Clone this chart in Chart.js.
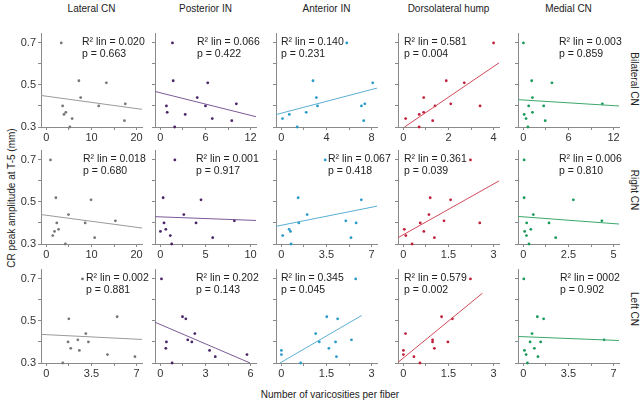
<!DOCTYPE html>
<html>
<head>
<meta charset="utf-8">
<script src="https://cdn.jsdelivr.net/npm/chart.js@4"></script>
<style>
  body { margin: 0; background: #fff; }
  #wrap { position: relative; width: 640px; height: 401px; overflow: hidden; font-family: "Liberation Sans", Arial, sans-serif; color: #222; }
  canvas { position: absolute; }
  .lbl { position: absolute; font-size: 10px; white-space: nowrap; transform: translate(-50%, -50%); }
  .rot { transform: translate(-50%, -50%) rotate(90deg); }
  .rotl { transform: translate(-50%, -50%) rotate(-90deg); }
</style>
</head>
<body>
<div id="wrap"></div>
<script>
const regions = ["Lateral CN", "Posterior IN", "Anterior IN", "Dorsolateral hump", "Medial CN"];
const sides = ["Bilateral CN", "Right CN", "Left CN"];
const yTickLabels = ["0.3", "0.5", "0.7"];

const ticksBilateral = [["0", "10", "20"], ["0", "6", "12"], ["0", "4", "8"], ["0", "2", "4"], ["0", "6", "12"]];
const ticksRight = [["0", "10", "20"], ["0", "5", "10"], ["0", "3.5", "7"], ["0", "1.5", "3"], ["0", "2.5", "5"]];
const ticksLeft = [["0", "3.5", "7"], ["0", "3", "6"], ["0", "1.5", "3"], ["0", "1.5", "3"], ["0", "3.5", "7"]];

const r2Bilateral = ["0.020", "0.066", "0.140", "0.581", "0.003"];
const pBilateral = ["0.663", "0.422", "0.231", "0.004", "0.859"];
const r2Right = ["0.018", "0.001", "0.067", "0.361", "0.006"];
const pRight = ["0.680", "0.917", "0.418", "0.039", "0.810"];
const r2Left = ["0.002", "0.202", "0.345", "0.579", "0002"];
const pLeft = ["0.881", "0.143", "0.045", "0.002", "0.902"];

// bilateral CN
const latBilat = [[3.3, 0.70], [7.2, 0.52], [13.3, 0.51], [7.6, 0.44], [3.6, 0.40], [11.6, 0.40], [17.5, 0.41], [4.3, 0.37], [3.9, 0.36], [5.7, 0.34], [17.3, 0.33], [5.2, 0.30]];
const postBilat = [[1.6, 0.70], [1.7, 0.52], [0.8, 0.40], [0.9, 0.37], [3.3, 0.36], [1.9, 0.30], [4.9, 0.44], [6.0, 0.40], [6.3, 0.51], [6.9, 0.34], [10.1, 0.41], [9.5, 0.33]];
const antBilat = [[5.8, 0.70], [2.8, 0.52], [8.1, 0.51], [3.1, 0.44], [3.2, 0.40], [2.2, 0.37], [0.7, 0.36], [0.1, 0.34], [7.1, 0.40], [7.4, 0.41], [7.3, 0.33], [1.4, 0.30]];
const dorsBilat = [[4.0, 0.70], [1.9, 0.52], [2.7, 0.51], [0.9, 0.44], [1.4, 0.40], [2.1, 0.41], [3.4, 0.40], [0.9, 0.37], [0.7, 0.36], [1.3, 0.33], [0.7, 0.30], [0.1, 0.34]];
const medBilat = [[0.0, 0.70], [1.1, 0.52], [3.8, 0.51], [1.2, 0.44], [0.7, 0.40], [2.7, 0.40], [10.5, 0.41], [0.1, 0.36], [1.2, 0.37], [0.35, 0.34], [2.9, 0.33], [0.6, 0.30]];
// right CN
const latRight = [[0.9, 0.70], [2.1, 0.52], [9.9, 0.51], [4.9, 0.44], [2.3, 0.40], [8.6, 0.40], [15.3, 0.41], [1.8, 0.36], [2.7, 0.37], [1.4, 0.34], [10.7, 0.33], [4.2, 0.30]];
const postRight = [[1.6, 0.70], [0.3, 0.52], [0.4, 0.40], [0.6, 0.37], [0.0, 0.36], [1.1, 0.34], [1.25, 0.30], [2.6, 0.44], [3.95, 0.40], [4.5, 0.51], [5.8, 0.33], [8.2, 0.41]];
const antRight = [[3.4, 0.70], [1.3, 0.52], [6.2, 0.51], [2.0, 0.44], [1.35, 0.40], [5.0, 0.41], [5.8, 0.40], [0.6, 0.37], [0.7, 0.36], [0.1, 0.34], [5.4, 0.33], [0.75, 0.30]];
const dorsRight = [[2.23, 0.70], [0.89, 0.52], [1.57, 0.51], [0.85, 0.44], [0.56, 0.40], [1.35, 0.41], [2.54, 0.40], [0.68, 0.36], [1.03, 0.33], [0.29, 0.30], [0.03, 0.37], [0.08, 0.34]];
const medRight = [[0.04, 0.70], [0.04, 0.52], [2.77, 0.51], [0.55, 0.44], [0.18, 0.40], [1.42, 0.40], [4.35, 0.41], [0.41, 0.37], [0.07, 0.36], [0.17, 0.34], [1.79, 0.33], [0.31, 0.30]];
// left CN
const latLeft = [[2.8, 0.70], [1.74, 0.51], [5.49, 0.52], [3.06, 0.44], [1.68, 0.40], [2.44, 0.41], [3.26, 0.40], [1.89, 0.37], [2.56, 0.36], [4.74, 0.34], [6.87, 0.33], [1.27, 0.30]];
const postLeft = [[0.07, 0.70], [1.47, 0.52], [1.69, 0.51], [0.4, 0.40], [0.36, 0.37], [1.82, 0.41], [2.09, 0.40], [2.29, 0.44], [3.27, 0.36], [3.65, 0.33], [0.78, 0.30], [5.76, 0.34]];
const antLeft = [[2.47, 0.70], [1.51, 0.52], [1.87, 0.51], [1.14, 0.44], [1.26, 0.40], [1.8, 0.40], [2.33, 0.41], [1.58, 0.37], [1.83, 0.33], [0.0, 0.36], [0.0, 0.34], [0.64, 0.30]];
const dorsLeft = [[2.23, 0.70], [1.27, 0.52], [1.63, 0.51], [0.97, 0.41], [0.97, 0.40], [1.48, 0.40], [1.03, 0.37], [0.55, 0.30], [0.35, 0.33], [0.07, 0.44], [0.0, 0.36], [0.0, 0.34]];
const medLeft = [[0.03, 0.70], [1.08, 0.52], [1.57, 0.51], [0.67, 0.44], [0.52, 0.40], [1.34, 0.40], [6.26, 0.41], [0.85, 0.37], [0.08, 0.36], [0.21, 0.34], [1.13, 0.33], [0.31, 0.30]];

// fit lines: [x0, y0, x1, y1]
const fitBilateral = [[-1.2, 0.45, 21.2, 0.384], [-0.72, 0.469, 12.72, 0.349], [-0.48, 0.359, 8.48, 0.485], [0.05, 0.30, 4.24, 0.605], [-0.72, 0.43, 12.72, 0.40]];
const fitRight = [[-1.2, 0.44, 21.2, 0.376], [-0.6, 0.43, 10.6, 0.412], [-0.42, 0.384, 7.42, 0.48], [-0.18, 0.33, 3.18, 0.60], [-0.3, 0.431, 5.3, 0.395]];
const fitLeft = [[-0.42, 0.436, 7.42, 0.412], [-0.36, 0.494, 5.97, 0.30], [-0.05, 0.30, 2.67, 0.526], [-0.18, 0.303, 2.63, 0.632], [-0.42, 0.426, 7.42, 0.407]];

const rows = [
  { pts: [latBilat, postBilat, antBilat, dorsBilat, medBilat], ticks: ticksBilateral, r2: r2Bilateral, p: pBilateral, fit: fitBilateral },
  { pts: [latRight, postRight, antRight, dorsRight, medRight], ticks: ticksRight, r2: r2Right, p: pRight, fit: fitRight },
  { pts: [latLeft, postLeft, antLeft, dorsLeft, medLeft], ticks: ticksLeft, r2: r2Left, p: pLeft, fit: fitLeft }
];

// layout
const colLeft = [41, 155, 276, 398, 518];
const rowTop = [33, 150, 269];
const plotW = 101, plotH = 94;
const PL = 34, PT = 14, PR = 20, XH = 18;
const pointColors = ["#777777", "#4a2466", "#2a9ac8", "#c0203a", "#1a9a5a"];
const lineColors = ["#9a9a9a", "#7a5a96", "#5aaed2", "#d04a5a", "#3aa86a"];
const textX = [[41, 42, 5, 6, 41], [42, 41, 52, 6, 41], [45, 41, 5, 6, 42]];
const axisColor = "#8a8a8a";
const font = "Liberation Sans, Arial, sans-serif";

const wrap = document.getElementById("wrap");

function addLabel(text, x, y, cls) {
  const d = document.createElement("div");
  d.className = "lbl" + (cls ? " " + cls : "");
  d.textContent = text;
  d.style.left = x + "px";
  d.style.top = y + "px";
  wrap.appendChild(d);
}

regions.forEach((r, c) => addLabel(r, colLeft[c] + plotW / 2, 8));
addLabel(sides[0], 634, 79, "rot");
addLabel(sides[1], 634, 190, "rot");
addLabel(sides[2], 634, 309, "rot");
addLabel("CR peak amplitude at T-5 (mm)", 11, 198, "rotl");
addLabel("Number of varicosities per fiber", 330, 394);

const statsText = {
  id: "statsText",
  afterDraw(chart, args, opts) {
    const ctx = chart.ctx, a = chart.chartArea;
    ctx.save();
    ctx.fillStyle = "#222";
    ctx.font = "10.5px " + font;
    ctx.textBaseline = "middle";
    ctx.fillText("R\u00b2 lin = " + opts.r2, a.left + opts.dx, a.top + 9);
    ctx.fillText("p = " + opts.p, a.left + opts.dx, a.top + 21.5);
    ctx.restore();
  }
};

rows.forEach((row, r) => {
  row.pts.forEach((pts, c) => {
    const cv = document.createElement("canvas");
    const W = PL + plotW + PR, H = PT + plotH + XH;
    cv.width = W; cv.height = H;
    cv.style.width = W + "px"; cv.style.height = H + "px";
    cv.style.left = (colLeft[c] - PL) + "px";
    cv.style.top = (rowTop[r] - PT) + "px";
    wrap.appendChild(cv);

    const labels = row.ticks[c];
    const tv = labels.map(parseFloat);
    const xTicks = [tv[0], (tv[0] + tv[1]) / 2, tv[1], (tv[1] + tv[2]) / 2, tv[2]];
    const pad = tv[2] * 0.06;
    const f = row.fit[c];

    new Chart(cv, {
      type: "scatter",
      data: {
        datasets: [
          {
            data: [{ x: f[0], y: f[1] }, { x: f[2], y: f[3] }],
            showLine: true,
            borderColor: lineColors[c],
            borderWidth: 1,
            pointRadius: 0,
            clip: false
          },
          {
            data: pts.map(d => ({ x: d[0], y: d[1] })),
            backgroundColor: pointColors[c],
            pointRadius: 1.4,
            pointBorderWidth: 0,
            clip: false
          }
        ]
      },
      options: {
        responsive: false,
        animation: false,
        devicePixelRatio: 1,
        events: [],
        layout: { padding: { left: 0, top: PT, right: PR, bottom: 0 } },
        plugins: {
          legend: { display: false },
          tooltip: { enabled: false },
          statsText: { r2: row.r2[c], p: row.p[c], dx: textX[r][c] }
        },
        scales: {
          x: {
            type: "linear",
            min: -pad,
            max: tv[2] + pad,
            afterFit: s => { s.height = XH; },
            afterBuildTicks: s => { s.ticks = xTicks.map(v => ({ value: v })); },
            border: { color: axisColor, width: 1 },
            grid: { drawOnChartArea: false, color: axisColor, tickLength: 3 },
            ticks: {
              padding: 1,
              maxRotation: 0,
              autoSkip: false,
              color: "#333",
              font: { size: 11, family: font },
              callback: v => { const i = tv.indexOf(v); return i >= 0 ? labels[i] : ""; }
            }
          },
          y: {
            type: "linear",
            min: 0.3,
            max: 0.747,
            afterFit: s => { s.width = PL; },
            afterBuildTicks: s => { s.ticks = [0.3, 0.4, 0.5, 0.6, 0.7].map(v => ({ value: v })); },
            border: { color: axisColor, width: 1 },
            grid: { drawOnChartArea: false, color: axisColor, tickLength: 3 },
            ticks: {
              padding: 2,
              autoSkip: false,
              color: "#333",
              font: { size: 11, family: font },
              callback: v => {
                if (c > 0) return "";
                const s = v.toFixed(1);
                return yTickLabels.includes(s) ? s : "";
              }
            }
          }
        }
      },
      plugins: [statsText]
    });
  });
});
</script>
</body>
</html>
